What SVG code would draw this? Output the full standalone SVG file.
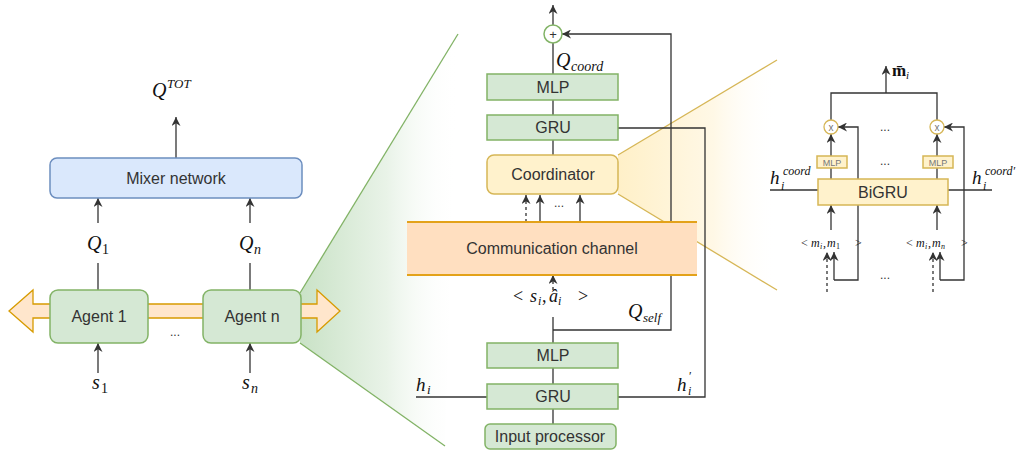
<svg xmlns="http://www.w3.org/2000/svg" width="1018" height="452" viewBox="0 0 1018 452">
<defs>
<marker id="ah" viewBox="0 0 10 10" refX="10" refY="5" markerWidth="9" markerHeight="9" markerUnits="userSpaceOnUse" orient="auto">
<path d="M0,0 L10,5 L0,10 L3,5 z" fill="#333"/>
</marker>
<linearGradient id="gfan" x1="0" y1="0" x2="1" y2="0">
<stop offset="0" stop-color="#c9e2c6"/>
<stop offset="0.55" stop-color="#e9f3e8"/>
<stop offset="1" stop-color="#ffffff" stop-opacity="0"/>
</linearGradient>
<linearGradient id="yfan" x1="0" y1="0" x2="1" y2="0">
<stop offset="0" stop-color="#fff0c8"/>
<stop offset="0.6" stop-color="#fff8e6"/>
<stop offset="1" stop-color="#ffffff" stop-opacity="0"/>
</linearGradient>
<style>
.c{fill:none;stroke:#333;stroke-width:1.3}
.a{marker-end:url(#ah)}
.d{stroke-dasharray:3 3}
.g{fill:#d5e8d4;stroke:#82b366;stroke-width:1.5}
.y{fill:#fff2cc;stroke:#d6b656;stroke-width:1.5}
.b{fill:#dae8fc;stroke:#6c8ebf;stroke-width:1.5}
.t{font-family:"Liberation Sans",Arial,sans-serif;font-size:16px;fill:#333;text-anchor:middle}
.m{font-family:"Liberation Serif","Times New Roman",serif;font-style:italic;fill:#111}
.r{font-family:"Liberation Serif","Times New Roman",serif;fill:#111}
.dots{font-family:"Liberation Sans",Arial,sans-serif;font-size:12px;fill:#333;text-anchor:middle}
</style>
</defs>

<g id="fans">
<polygon points="300,293 458,34 445,446 300,343" fill="url(#gfan)"/>
<line x1="300" y1="293" x2="458" y2="34" stroke="#82b366" stroke-width="1.3"/>
<line x1="300" y1="343" x2="445" y2="446" stroke="#82b366" stroke-width="1.3"/>
<polygon points="618,155 777,60 777,290 618,194" fill="url(#yfan)"/>
<line x1="618" y1="155" x2="777" y2="60" stroke="#d6b656" stroke-width="1.3"/>
<line x1="618" y1="194" x2="777" y2="290" stroke="#d6b656" stroke-width="1.3"/>
</g>

<g id="connectors">
<line class="c a" x1="176" y1="158" x2="176" y2="117"/>
<line class="c a" x1="98" y1="223" x2="98" y2="198"/>
<line class="c a" x1="250" y1="223" x2="250" y2="198"/>
<line class="c" x1="98" y1="263" x2="98" y2="290"/>
<line class="c" x1="250" y1="263" x2="250" y2="290"/>
<line class="c a" x1="98" y1="373" x2="98" y2="343"/>
<line class="c a" x1="250" y1="373" x2="250" y2="343"/>
<line class="c a" x1="553" y1="25" x2="553" y2="5"/>
<line class="c" x1="553" y1="74" x2="553" y2="43"/>
<line class="c" x1="553" y1="100" x2="553" y2="115"/>
<line class="c" x1="553" y1="140" x2="553" y2="155"/>
<path class="c a" d="M553,330 L671,330 L671,34 L562,34"/>
<path class="c" d="M618,128 L705,128 L705,397 L618,397"/>
<line class="c a d" x1="526" y1="222" x2="526" y2="195"/>
<line class="c a" x1="540" y1="222" x2="540" y2="195"/>
<line class="c a" x1="580" y1="222" x2="580" y2="195"/>
<line class="c a d" x1="553" y1="290" x2="553" y2="275"/>
<line class="c" x1="553" y1="317" x2="553" y2="343"/>
<line class="c" x1="553" y1="368" x2="553" y2="384"/>
<line class="c" x1="553" y1="409" x2="553" y2="424"/>
<line class="c" x1="416" y1="397" x2="487" y2="397"/>
<line class="c a" x1="886" y1="93" x2="886" y2="66"/>
<path class="c" d="M831,120 L831,93 L937,93 L937,120"/>
<path class="c a" d="M834,280 L858,280 L858,127 L838,127"/>
<path class="c a" d="M940,280 L964,280 L964,127 L944,127"/>
<line class="c a" x1="831" y1="156" x2="831" y2="134"/>
<line class="c a" x1="937" y1="156" x2="937" y2="134"/>
<line class="c" x1="831" y1="179" x2="831" y2="168"/>
<line class="c" x1="937" y1="179" x2="937" y2="168"/>
<line class="c" x1="770" y1="190" x2="818" y2="190"/>
<line class="c" x1="948" y1="190" x2="992" y2="190"/>
<line class="c a" x1="831" y1="230" x2="831" y2="205"/>
<line class="c a" x1="937" y1="230" x2="937" y2="205"/>
<line class="c a d" x1="827" y1="292" x2="827" y2="252"/>
<line class="c a" x1="834" y1="280" x2="834" y2="252"/>
<line class="c a d" x1="933" y1="292" x2="933" y2="252"/>
<line class="c a" x1="940" y1="280" x2="940" y2="252"/>
</g>

<g id="broadcast-arrow">
<polygon points="9,311 33,290 33,304 317,304 317,290 340,311 317,332 317,318 33,318 33,332" fill="#ffe6cc" stroke="#d79b00" stroke-width="1.3"/>
</g>

<g id="mixer">
<rect class="b" x="50" y="158" width="252" height="40" rx="7"/>
<text class="t" x="176" y="184">Mixer network</text>
</g>
<g id="agent1">
<rect class="g" x="50" y="290" width="98" height="53" rx="8"/>
<text class="t" x="99" y="322">Agent 1</text>
</g>
<g id="agentn">
<rect class="g" x="203" y="290" width="98" height="53" rx="8"/>
<text class="t" x="252" y="322">Agent n</text>
</g>
<text class="dots" x="175" y="336">...</text>

<g id="sum">
<circle cx="553" cy="34" r="9" fill="#fff" stroke="#82b366" stroke-width="1.5"/>
<text x="553" y="39" font-family="Liberation Sans,Arial,sans-serif" font-size="13" fill="#333" text-anchor="middle">+</text>
</g>
<g id="mlp-top">
<rect class="g" x="487" y="74" width="131" height="26"/>
<text class="t" x="553" y="93">MLP</text>
</g>
<g id="gru-top">
<rect class="g" x="487" y="115" width="131" height="25"/>
<text class="t" x="553" y="133">GRU</text>
</g>
<g id="coordinator">
<rect class="y" x="487" y="155" width="131" height="39" rx="7"/>
<text class="t" x="553" y="180">Coordinator</text>
</g>
<text class="dots" x="559" y="207">...</text>
<g id="comm-channel">
<rect x="407" y="222" width="290" height="53" fill="#ffdfc0"/>
<line x1="407" y1="222" x2="697" y2="222" stroke="#e3a21a" stroke-width="1.8"/>
<line x1="407" y1="275" x2="697" y2="275" stroke="#e3a21a" stroke-width="1.8"/>
<text class="t" x="552" y="254">Communication channel</text>
</g>
<g id="mlp-bottom">
<rect class="g" x="487" y="343" width="131" height="25"/>
<text class="t" x="553" y="361">MLP</text>
</g>
<g id="gru-bottom">
<rect class="g" x="487" y="384" width="131" height="25"/>
<text class="t" x="553" y="402">GRU</text>
</g>
<g id="input-processor">
<rect class="g" x="485" y="424" width="131" height="25" rx="5"/>
<text class="t" x="550" y="442">Input processor</text>
</g>

<g id="bigru">
<rect class="y" x="818" y="179" width="130" height="26"/>
<text class="t" x="883" y="198">BiGRU</text>
</g>
<g id="mlp-small-1">
<rect class="y" x="817" y="156" width="30" height="12" stroke-width="1"/>
<text x="832" y="165.5" font-family="Liberation Sans,Arial,sans-serif" font-size="9" fill="#777" text-anchor="middle">MLP</text>
</g>
<g id="mlp-small-n">
<rect class="y" x="923" y="156" width="30" height="12" stroke-width="1"/>
<text x="938" y="165.5" font-family="Liberation Sans,Arial,sans-serif" font-size="9" fill="#777" text-anchor="middle">MLP</text>
</g>
<g id="mul-1">
<circle cx="831" cy="127" r="7" fill="#fff" stroke="#d6b656" stroke-width="1.3"/>
<text x="831" y="131" font-family="Liberation Sans,Arial,sans-serif" font-size="10" fill="#777" text-anchor="middle">x</text>
</g>
<g id="mul-n">
<circle cx="937" cy="127" r="7" fill="#fff" stroke="#d6b656" stroke-width="1.3"/>
<text x="937" y="131" font-family="Liberation Sans,Arial,sans-serif" font-size="10" fill="#777" text-anchor="middle">x</text>
</g>
<text class="dots" x="885" y="131">...</text>
<text class="dots" x="885" y="165">...</text>
<text class="dots" x="885" y="279">...</text>

<g id="labels">
<text class="m" x="152" y="97" font-size="20">Q</text>
<text class="m" x="167" y="88" font-size="13">TOT</text>
<text class="m" x="87" y="250" font-size="20">Q</text>
<text class="r" x="102" y="254" font-size="14">1</text>
<text class="m" x="239" y="250" font-size="20">Q</text>
<text class="m" x="254" y="254" font-size="14">n</text>
<text class="m" x="92" y="389" font-size="20">s</text>
<text class="r" x="101" y="393" font-size="14">1</text>
<text class="m" x="242" y="389" font-size="20">s</text>
<text class="m" x="251" y="393" font-size="14">n</text>
<text class="m" x="556" y="67" font-size="20">Q</text>
<text class="m" x="571" y="71" font-size="14">coord</text>
<text class="r" x="513" y="302" font-size="18">&lt;</text>
<text class="m" x="530" y="302" font-size="18">s</text>
<text class="m" x="538" y="305" font-size="12">i</text>
<text class="r" x="542" y="302" font-size="18">,</text>
<text class="m" x="549" y="302" font-size="18">â</text>
<text class="m" x="558" y="305" font-size="12">i</text>
<text class="r" x="578" y="302" font-size="18">&gt;</text>
<text class="m" x="628" y="318" font-size="20">Q</text>
<text class="m" x="643" y="322" font-size="13">self</text>
<text class="m" x="416" y="391" font-size="19">h</text>
<text class="m" x="427" y="394" font-size="13">i</text>
<text class="m" x="677" y="391" font-size="19">h</text>
<text class="r" x="689" y="380" font-size="12">′</text>
<text class="m" x="688" y="395" font-size="12">i</text>
<text x="892" y="76" font-family="Liberation Serif,serif" font-weight="bold" font-size="17" fill="#111">m̄</text>
<text class="m" x="906" y="79" font-size="11">i</text>
<text class="m" x="770" y="184" font-size="19">h</text>
<text class="m" x="783" y="175" font-size="12">coord</text>
<text class="m" x="781" y="190" font-size="12">i</text>
<text class="m" x="972" y="184" font-size="19">h</text>
<text class="m" x="985" y="175" font-size="12">coord′</text>
<text class="m" x="983" y="190" font-size="12">i</text>
<text class="r" x="801" y="247" font-size="12">&lt;</text>
<text class="m" x="811" y="247" font-size="12">m</text>
<text class="m" x="820" y="249" font-size="8">i</text>
<text class="r" x="823" y="247" font-size="12">,</text>
<text class="m" x="827" y="247" font-size="12">m</text>
<text class="r" x="836" y="249" font-size="8">1</text>
<text class="r" x="855" y="247" font-size="12">&gt;</text>
<text class="r" x="906" y="247" font-size="12">&lt;</text>
<text class="m" x="916" y="247" font-size="12">m</text>
<text class="m" x="925" y="249" font-size="8">i</text>
<text class="r" x="928" y="247" font-size="12">,</text>
<text class="m" x="932" y="247" font-size="12">m</text>
<text class="m" x="941" y="249" font-size="8">n</text>
<text class="r" x="961" y="247" font-size="12">&gt;</text>
</g>
</svg>
